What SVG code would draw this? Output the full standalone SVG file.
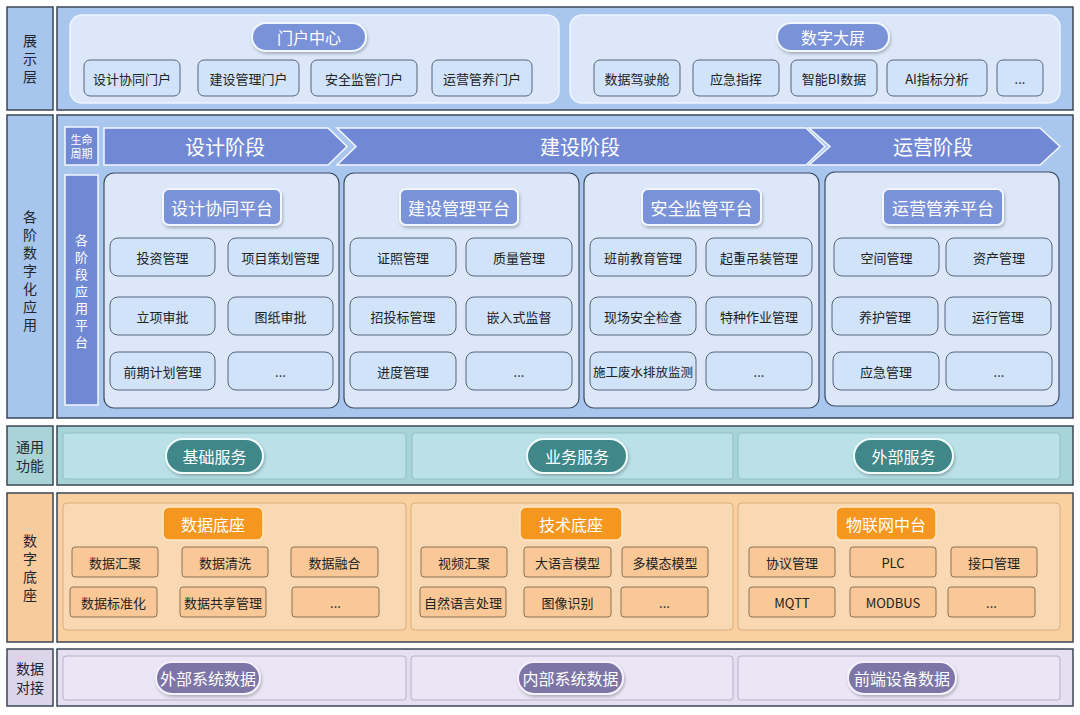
<svg xmlns="http://www.w3.org/2000/svg" width="1080" height="715" viewBox="0 0 1080 715">
<defs>
<filter id="sh" x="-20%" y="-30%" width="140%" height="170%">
<feDropShadow dx="1" dy="2" stdDeviation="1.5" flood-color="#000" flood-opacity="0.25"/>
</filter>
<style>
text{font-family:"Noto Sans CJK SC","Noto Sans",sans-serif;text-anchor:middle;dominant-baseline:central}
.lab{font-size:14px;fill:#1f2630}
.it{font-size:13px;fill:#222}
.pt{font-size:16px;fill:#fff}
.big{font-size:20px;fill:#fff}
.plt{font-size:17px;fill:#fff}
.frame{stroke:#3b4656;stroke-width:1.5}
.bl{fill:#a6c6ee}
.bp{fill:#a8c6ee}
.grp{fill:#dce8f9;stroke:#eef5ff;stroke-width:1.5}
.plat{fill:#dce8f9;stroke:#3e4c60;stroke-width:1.2}
.bpill{fill:#7a92d8;stroke:#f2f7ff;stroke-width:2}
.bit{fill:#d0e3f8;stroke:#56637a;stroke-width:1}
.chev{fill:#7189d4;stroke:#f2f7ff;stroke-width:1.5}
.tl{fill:#a9d3d6}
.tp{fill:#a7d4d8}
.tg{fill:#b9e1e7;stroke:#90c0c5;stroke-width:1}
.tpill{fill:#3f8789;stroke:#f2fbfb;stroke-width:2}
.ol{fill:#f8cb9c}
.op{fill:#fbd0a0}
.og{fill:#f9d9b3;stroke:#d9ad80;stroke-width:1}
.opill{fill:#f5961f;stroke:#fde7c8;stroke-width:1.5}
.oit{fill:#f9c896;stroke:#8b7257;stroke-width:1}
.pl{fill:#dbd5e9}
.pp{fill:#e5dff1}
.pg{fill:#ebe6f6;stroke:#b8b0ca;stroke-width:1}
.ppill{fill:#7b74a6;stroke:#f4f1fa;stroke-width:2}
</style>
</defs>

<!-- Row 1: 展示层 -->
<g id="layer-display">
<rect class="bl frame" x="7" y="7" width="46" height="103"/>
<text class="lab"><tspan x="30" y="40">展</tspan><tspan x="30" y="58">示</tspan><tspan x="30" y="76">层</tspan></text>
<rect class="bp frame" x="57" y="7" width="1016" height="103"/>
</g>
<g id="portal-center">
<rect class="grp" x="70" y="15" width="489" height="88" rx="12"/>
<rect class="bpill" x="252" y="23" width="114" height="28" rx="14" filter="url(#sh)"/>
<text class="pt" x="309" y="37">门户中心</text>
<rect class="bit" x="84" y="60" width="96" height="36" rx="6"/><text class="it" x="132" y="78">设计协同门户</text>
<rect class="bit" x="198" y="60" width="101" height="36" rx="6"/><text class="it" x="248.5" y="78">建设管理门户</text>
<rect class="bit" x="311" y="60" width="106" height="36" rx="6"/><text class="it" x="364" y="78">安全监管门户</text>
<rect class="bit" x="432" y="60" width="100" height="36" rx="6"/><text class="it" x="482" y="78">运营管养门户</text>
</g>
<g id="big-screen">
<rect class="grp" x="570" y="15" width="490" height="88" rx="12"/>
<rect class="bpill" x="777" y="23" width="112" height="28" rx="14" filter="url(#sh)"/>
<text class="pt" x="833" y="37">数字大屏</text>
<rect class="bit" x="594" y="60" width="86" height="36" rx="6"/><text class="it" x="637" y="78">数据驾驶舱</text>
<rect class="bit" x="693" y="60" width="86" height="36" rx="6"/><text class="it" x="736" y="78">应急指挥</text>
<rect class="bit" x="791" y="60" width="86" height="36" rx="6"/><text class="it" x="834" y="78">智能BI数据</text>
<rect class="bit" x="887" y="60" width="100" height="36" rx="6"/><text class="it" x="937" y="78">AI指标分析</text>
<rect class="bit" x="997" y="60" width="46" height="36" rx="6"/><text class="it" x="1020" y="78">...</text>
</g>

<!-- Row 2: 各阶数字化应用 -->
<g id="layer-apps">
<rect class="bl frame" x="7" y="115" width="46" height="303"/>
<text class="lab"><tspan x="30" y="216">各</tspan><tspan x="30" y="234">阶</tspan><tspan x="30" y="252">数</tspan><tspan x="30" y="270">字</tspan><tspan x="30" y="288">化</tspan><tspan x="30" y="306">应</tspan><tspan x="30" y="324">用</tspan></text>
<rect class="bp frame" x="57" y="115" width="1016" height="303"/>
</g>
<g id="lifecycle">
<rect x="65" y="127" width="33" height="38" fill="#7189d4" stroke="#f2f7ff" stroke-width="1.5"/>
<text style="font-size:11px;fill:#fff"><tspan x="81.5" y="139">生命</tspan><tspan x="81.5" y="153">周期</tspan></text>
<rect x="65" y="175" width="33" height="230" fill="#7189d4" stroke="#f2f7ff" stroke-width="1.5"/>
<text style="font-size:13px;fill:#fff"><tspan x="81.5" y="239">各</tspan><tspan x="81.5" y="256">阶</tspan><tspan x="81.5" y="273">段</tspan><tspan x="81.5" y="290">应</tspan><tspan x="81.5" y="307">用</tspan><tspan x="81.5" y="324">平</tspan><tspan x="81.5" y="341">台</tspan></text>
</g>
<g id="phase-design">
<polygon class="chev" points="104,128 328,128 347,146.5 328,165 104,165"/>
<text class="big" x="225" y="146">设计阶段</text>
</g>
<g id="phase-build">
<polygon class="chev" points="337,128 806,128 825,146.5 806,165 337,165 356,146.5"/>
<text class="big" x="580" y="146">建设阶段</text>
</g>
<g id="phase-ops">
<polygon class="chev" points="809,128 1040,128 1060,146.5 1040,165 809,165 830,146.5"/>
<text class="big" x="933" y="146">运营阶段</text>
</g>

<g id="platform-design">
<rect class="plat" x="104" y="173" width="235" height="235" rx="10"/>
<rect class="bpill" x="163" y="189" width="118" height="36" rx="6" filter="url(#sh)"/>
<text class="plt" x="222" y="207">设计协同平台</text>
<rect class="bit" x="110" y="238" width="105" height="38" rx="8"/><text class="it" x="162.5" y="257">投资管理</text>
<rect class="bit" x="228" y="238" width="105" height="38" rx="8"/><text class="it" x="280.5" y="257">项目策划管理</text>
<rect class="bit" x="110" y="297" width="105" height="38" rx="8"/><text class="it" x="162.5" y="316">立项审批</text>
<rect class="bit" x="228" y="297" width="105" height="38" rx="8"/><text class="it" x="280.5" y="316">图纸审批</text>
<rect class="bit" x="110" y="352" width="105" height="38" rx="8"/><text class="it" x="162.5" y="371">前期计划管理</text>
<rect class="bit" x="228" y="352" width="105" height="38" rx="8"/><text class="it" x="280.5" y="371">...</text>
</g>
<g id="platform-build">
<rect class="plat" x="344" y="173" width="235" height="235" rx="10"/>
<rect class="bpill" x="400" y="189" width="118" height="36" rx="6" filter="url(#sh)"/>
<text class="plt" x="459" y="207">建设管理平台</text>
<rect class="bit" x="350" y="238" width="106" height="38" rx="8"/><text class="it" x="403" y="257">证照管理</text>
<rect class="bit" x="466" y="238" width="106" height="38" rx="8"/><text class="it" x="519" y="257">质量管理</text>
<rect class="bit" x="350" y="297" width="106" height="38" rx="8"/><text class="it" x="403" y="316">招投标管理</text>
<rect class="bit" x="466" y="297" width="106" height="38" rx="8"/><text class="it" x="519" y="316">嵌入式监督</text>
<rect class="bit" x="350" y="352" width="106" height="38" rx="8"/><text class="it" x="403" y="371">进度管理</text>
<rect class="bit" x="466" y="352" width="106" height="38" rx="8"/><text class="it" x="519" y="371">...</text>
</g>
<g id="platform-safety">
<rect class="plat" x="584" y="173" width="235" height="235" rx="10"/>
<rect class="bpill" x="642" y="189" width="119" height="36" rx="6" filter="url(#sh)"/>
<text class="plt" x="701.5" y="207">安全监管平台</text>
<rect class="bit" x="590" y="238" width="106" height="38" rx="8"/><text class="it" x="643" y="257">班前教育管理</text>
<rect class="bit" x="706" y="238" width="106" height="38" rx="8"/><text class="it" x="759" y="257">起重吊装管理</text>
<rect class="bit" x="590" y="297" width="106" height="38" rx="8"/><text class="it" x="643" y="316">现场安全检查</text>
<rect class="bit" x="706" y="297" width="106" height="38" rx="8"/><text class="it" x="759" y="316">特种作业管理</text>
<rect class="bit" x="590" y="352" width="106" height="38" rx="8"/><text class="it" x="643" y="371" style="font-size:12.5px">施工废水排放监测</text>
<rect class="bit" x="706" y="352" width="106" height="38" rx="8"/><text class="it" x="759" y="371">...</text>
</g>
<g id="platform-ops">
<rect class="plat" x="825" y="172" width="234" height="234" rx="10"/>
<rect class="bpill" x="883" y="189" width="120" height="36" rx="6" filter="url(#sh)"/>
<text class="plt" x="943" y="207">运营管养平台</text>
<rect class="bit" x="834" y="238" width="105" height="38" rx="8"/><text class="it" x="886.5" y="257">空间管理</text>
<rect class="bit" x="946" y="238" width="106" height="38" rx="8"/><text class="it" x="999" y="257">资产管理</text>
<rect class="bit" x="832" y="297" width="106" height="38" rx="8"/><text class="it" x="885" y="316">养护管理</text>
<rect class="bit" x="945" y="297" width="106" height="38" rx="8"/><text class="it" x="998" y="316">运行管理</text>
<rect class="bit" x="833" y="352" width="106" height="38" rx="8"/><text class="it" x="886" y="371">应急管理</text>
<rect class="bit" x="946" y="352" width="106" height="38" rx="8"/><text class="it" x="999" y="371">...</text>
</g>

<!-- Row 3: 通用功能 -->
<g id="layer-common">
<rect class="tl frame" x="7" y="426" width="46" height="59"/>
<text class="lab"><tspan x="30" y="446">通用</tspan><tspan x="30" y="465">功能</tspan></text>
<rect class="tp frame" x="57" y="426" width="1016" height="59"/>
</g>
<g id="svc-basic">
<rect class="tg" x="63" y="433" width="343" height="46" rx="3"/>
<rect class="tpill" x="166" y="439" width="97" height="34" rx="17" filter="url(#sh)"/>
<text class="pt" x="214.5" y="456">基础服务</text>
</g>
<g id="svc-business">
<rect class="tg" x="412" y="433" width="321" height="46" rx="3"/>
<rect class="tpill" x="527" y="439" width="100" height="34" rx="17" filter="url(#sh)"/>
<text class="pt" x="577" y="456">业务服务</text>
</g>
<g id="svc-external">
<rect class="tg" x="738" y="433" width="322" height="46" rx="3"/>
<rect class="tpill" x="854" y="439" width="99" height="34" rx="17" filter="url(#sh)"/>
<text class="pt" x="903.5" y="456">外部服务</text>
</g>

<!-- Row 4: 数字底座 -->
<g id="layer-base">
<rect class="ol frame" x="7" y="493" width="46" height="149"/>
<text class="lab"><tspan x="30" y="540">数</tspan><tspan x="30" y="558">字</tspan><tspan x="30" y="576">底</tspan><tspan x="30" y="594">座</tspan></text>
<rect class="op frame" x="57" y="493" width="1016" height="149"/>
</g>
<g id="base-data">
<rect class="og" x="63" y="503" width="343" height="127" rx="4"/>
<rect class="opill" x="163" y="507" width="100" height="33" rx="6"/>
<text class="pt" x="213" y="523.5">数据底座</text>
<rect class="oit" x="72" y="547" width="86" height="30" rx="3"/><text class="it" x="115" y="562">数据汇聚</text>
<rect class="oit" x="182" y="547" width="86" height="30" rx="3"/><text class="it" x="225" y="562">数据清洗</text>
<rect class="oit" x="291" y="547" width="87" height="30" rx="3"/><text class="it" x="334.5" y="562">数据融合</text>
<rect class="oit" x="70" y="587" width="87" height="30" rx="3"/><text class="it" x="113.5" y="602">数据标准化</text>
<rect class="oit" x="180" y="587" width="86" height="30" rx="3"/><text class="it" x="223" y="602">数据共享管理</text>
<rect class="oit" x="292" y="587" width="87" height="30" rx="3"/><text class="it" x="335.5" y="602">...</text>
</g>
<g id="base-tech">
<rect class="og" x="411" y="503" width="322" height="127" rx="4"/>
<rect class="opill" x="520" y="507" width="102" height="33" rx="6"/>
<text class="pt" x="571" y="523.5">技术底座</text>
<rect class="oit" x="421" y="547" width="86" height="30" rx="3"/><text class="it" x="464" y="562">视频汇聚</text>
<rect class="oit" x="524" y="547" width="87" height="30" rx="3"/><text class="it" x="567.5" y="562">大语言模型</text>
<rect class="oit" x="622" y="547" width="86" height="30" rx="3"/><text class="it" x="665" y="562">多模态模型</text>
<rect class="oit" x="420" y="587" width="86" height="30" rx="3"/><text class="it" x="463" y="602">自然语言处理</text>
<rect class="oit" x="524" y="587" width="87" height="30" rx="3"/><text class="it" x="567.5" y="602">图像识别</text>
<rect class="oit" x="621" y="587" width="87" height="30" rx="3"/><text class="it" x="664.5" y="602">...</text>
</g>
<g id="base-iot">
<rect class="og" x="738" y="503" width="322" height="127" rx="4"/>
<rect class="opill" x="836" y="507" width="100" height="33" rx="6"/>
<text class="pt" x="886" y="523.5">物联网中台</text>
<rect class="oit" x="749" y="547" width="86" height="30" rx="3"/><text class="it" x="792" y="562">协议管理</text>
<rect class="oit" x="850" y="547" width="86" height="30" rx="3"/><text class="it" x="893" y="562">PLC</text>
<rect class="oit" x="951" y="547" width="86" height="30" rx="3"/><text class="it" x="994" y="562">接口管理</text>
<rect class="oit" x="749" y="587" width="86" height="30" rx="3"/><text class="it" x="792" y="602">MQTT</text>
<rect class="oit" x="850" y="587" width="86" height="30" rx="3"/><text class="it" x="893" y="602">MODBUS</text>
<rect class="oit" x="948" y="587" width="87" height="30" rx="3"/><text class="it" x="991.5" y="602">...</text>
</g>

<!-- Row 5: 数据对接 -->
<g id="layer-data">
<rect class="pl frame" x="7" y="649" width="46" height="57"/>
<text class="lab"><tspan x="30" y="668">数据</tspan><tspan x="30" y="687">对接</tspan></text>
<rect class="pp frame" x="57" y="649" width="1016" height="57"/>
</g>
<g id="data-external">
<rect class="pg" x="63" y="656" width="343" height="44" rx="3"/>
<rect class="ppill" x="156" y="662" width="104" height="32" rx="16" filter="url(#sh)"/>
<text class="pt" x="208" y="678">外部系统数据</text>
</g>
<g id="data-internal">
<rect class="pg" x="411" y="656" width="322" height="44" rx="3"/>
<rect class="ppill" x="518" y="662" width="105" height="32" rx="16" filter="url(#sh)"/>
<text class="pt" x="570.5" y="678">内部系统数据</text>
</g>
<g id="data-device">
<rect class="pg" x="738" y="656" width="322" height="44" rx="3"/>
<rect class="ppill" x="848" y="662" width="108" height="32" rx="16" filter="url(#sh)"/>
<text class="pt" x="902" y="678">前端设备数据</text>
</g>

<g id="connectors"></g>
</svg>
